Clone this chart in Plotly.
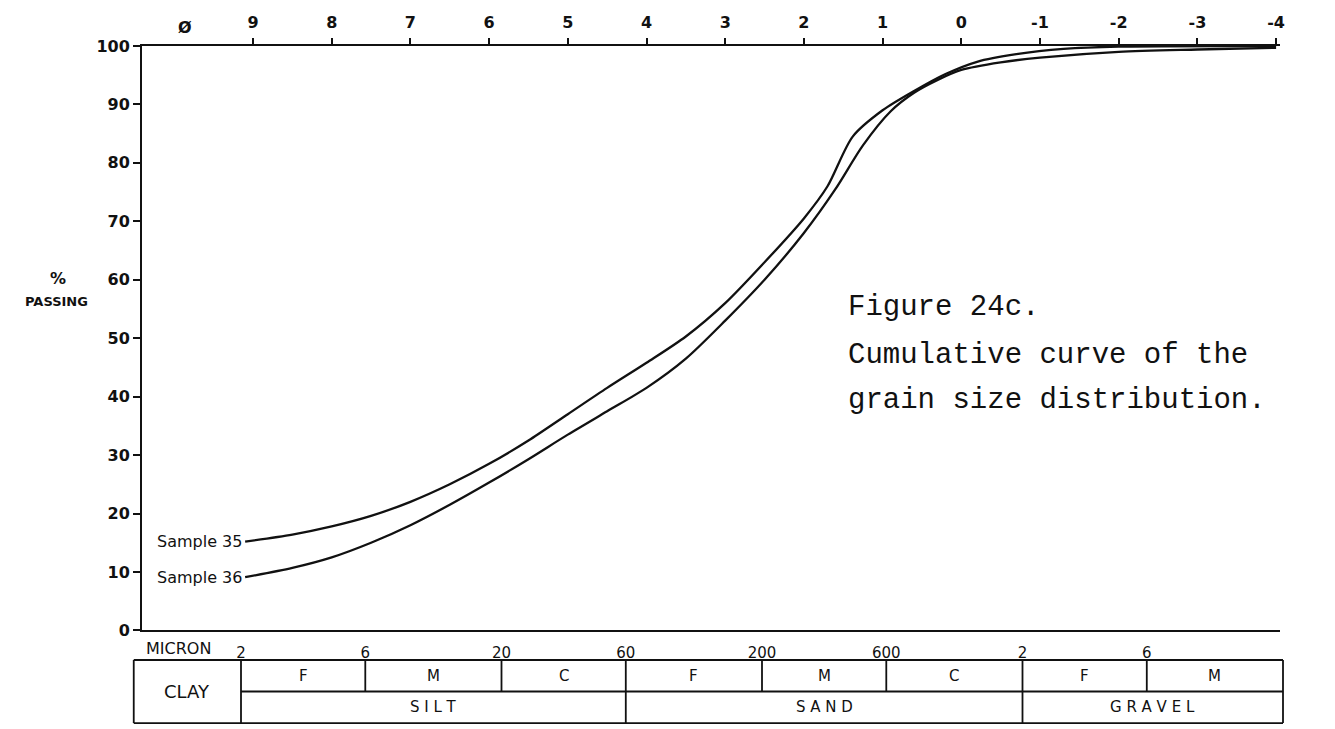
import numpy as np
import plotly.graph_objects as go

# ---------------- data ----------------
phi_35 = [9.1, 8.5, 8.0, 7.5, 7.0, 6.5, 6.0, 5.5, 5.0, 4.5, 4.0, 3.5, 3.0, 2.5, 2.0, 1.7,
          1.38, 1.0, 0.6, 0.2, -0.2, -0.7, -1.3, -2.0, -4.0]
pct_35 = [15.2, 16.4, 17.8, 19.6, 22.0, 25.0, 28.5, 32.5, 37.0, 41.5, 45.8, 50.3, 56.0, 63.0,
          70.5, 76.0, 84.5, 89.0, 92.3, 95.2, 97.3, 98.6, 99.5, 99.9, 100.0]

phi_36 = [9.1, 8.5, 8.0, 7.5, 7.0, 6.5, 6.0, 5.5, 5.0, 4.5, 4.0, 3.5, 3.0, 2.5, 2.0, 1.6,
          1.25, 0.9, 0.6, 0.3, 0.0, -0.5, -1.0, -2.0, -3.0, -4.0]
pct_36 = [9.1, 10.7, 12.5, 15.0, 18.0, 21.5, 25.3, 29.3, 33.5, 37.5, 41.5, 46.5, 53.0, 60.0,
          68.0, 75.5, 83.0, 88.8, 92.0, 94.2, 95.9, 97.2, 98.0, 99.0, 99.4, 99.7]

series_names = ["Sample 35", "Sample 36"]

phi_ticks = [9, 8, 7, 6, 5, 4, 3, 2, 1, 0, -1, -2, -3, -4]
phi_labels = ["9", "8", "7", "6", "5", "4", "3", "2", "1", "0", "-1", "-2", "-3", "-4"]

y_ticks = [0, 10, 20, 30, 40, 50, 60, 70, 80, 90, 100]
y_labels = ["0", "10", "20", "30", "40", "50", "60", "70", "80", "90", "100"]

micron_ticks = [2, 6, 20, 60, 200, 600, 2000, 6000, 20000]
micron_labels = ["2", "6", "20", "60", "200", "600", "2", "6", "20"]

# size-class table (boundaries in microns)
sub_bounds = [2, 6, 20, 60, 200, 600, 2000, 6000, 20000]
sub_labels = ["F", "M", "C", "F", "M", "C", "F", "M"]
class_bounds = [2, 60, 2000, 20000]
class_labels = ["S I L T", "S A N D", "G R A V E L"]
clay_label = "CLAY"
clay_left_um = 0.775

caption = ["Figure 24c.", "Cumulative curve of the", "grain size distribution."]

# ---------------- layout geometry ----------------
W, H = 1335, 729
ML, MR, MT, MB = 120, 55, 38, 0
PW = W - ML - MR
PH = H - MT - MB
PX_PER_DEC = 260.5
X_2UM = 233.0


def px_to_log(px):
    return np.log10(2) + (px - X_2UM) / PX_PER_DEC


def paper_x(px):
    return (px - ML) / PW


def paper_y(py):
    return (H - MB - py) / PH


main_left, main_right = 134, 1272
main_top, main_bottom = 38, 631
x_dom = [paper_x(main_left), paper_x(main_right)]
y_dom = [paper_y(main_bottom), 1.0]
tab_dom = [paper_y(728.2), paper_y(657.8)]

PHI_PER_PX = 1 / 78.7
phi_range = [9 + (245 - main_left) * PHI_PER_PX, 9 - (main_right - 245) * PHI_PER_PX]

FONT = "DejaVu Sans"
BLACK = "#111111"

fig = go.Figure()

for phis, pcts, name in [(phi_35, pct_35, series_names[0]), (phi_36, pct_36, series_names[1])]:
    fig.add_trace(go.Scatter(
        x=phis, y=pcts, xaxis="x2", yaxis="y", mode="lines", name=name,
        line=dict(color=BLACK, width=2.3, shape="spline", smoothing=0.8),
        showlegend=False, hoverinfo="skip"))
    fig.add_annotation(x=phis[0], y=pcts[0], xref="x2", yref="y", text=name,
                       showarrow=False, xanchor="right", yanchor="middle", xshift=-1,
                       font=dict(family=FONT, size=16, color=BLACK))

# dummy trace for the table subplot
fig.add_trace(go.Scatter(x=[], y=[], xaxis="x3", yaxis="y3", showlegend=False))

# table shapes
LW = 1.8
lx = np.log10(clay_left_um)
rx = np.log10(sub_bounds[-1])
line = dict(color=BLACK, width=LW)
fig.add_shape(type="line", xref="x3", yref="y3", x0=lx, x1=rx, y0=2, y1=2, line=line)
fig.add_shape(type="line", xref="x3", yref="y3", x0=lx, x1=rx, y0=0, y1=0, line=line)
fig.add_shape(type="line", xref="x3", yref="y3", x0=np.log10(2), x1=rx, y0=1, y1=1, line=line)
fig.add_shape(type="line", xref="x3", yref="y3", x0=lx, x1=lx, y0=0, y1=2, line=line)
for b in class_bounds:
    fig.add_shape(type="line", xref="x3", yref="y3", x0=np.log10(b), x1=np.log10(b),
                  y0=0, y1=2, line=line)
for b in sub_bounds:
    if b not in class_bounds:
        fig.add_shape(type="line", xref="x3", yref="y3", x0=np.log10(b), x1=np.log10(b),
                      y0=1, y1=2, line=line)

for i, lab in enumerate(sub_labels):
    xc = (np.log10(sub_bounds[i]) + np.log10(sub_bounds[i + 1])) / 2
    fig.add_annotation(x=xc, y=1.5, xref="x3", yref="y3", text=lab, showarrow=False,
                       xanchor="center", yanchor="middle",
                       font=dict(family=FONT, size=15, color=BLACK))
for i, lab in enumerate(class_labels):
    xc = (np.log10(class_bounds[i]) + np.log10(class_bounds[i + 1])) / 2
    fig.add_annotation(x=xc, y=0.5, xref="x3", yref="y3", text=lab, showarrow=False,
                       xanchor="center", yanchor="middle",
                       font=dict(family=FONT, size=15, color=BLACK))
fig.add_annotation(x=(lx + np.log10(2)) / 2, y=1.0, xref="x3", yref="y3", text=clay_label,
                   showarrow=False, xanchor="center", yanchor="middle",
                   font=dict(family=FONT, size=18, color=BLACK))


# other labels
def label(px, py, text, size, family=FONT, xanchor="center", bold=False):
    fig.add_annotation(x=paper_x(px), y=paper_y(py), xref="paper", yref="paper", text=text,
                       showarrow=False, xanchor=xanchor, yanchor="middle",
                       font=dict(family=family, size=size, color=BLACK,
                                 weight="bold" if bold else "normal"))


label(170, 649, "MICRON", 16)
label(177, 19, "Ø", 16, bold=True)
label(50, 274, "%", 16, bold=True)
label(48, 297, "PASSING", 13, bold=True)
fig.add_annotation(x=np.log10(micron_ticks[-1]), y=paper_y(649), xref="x", yref="paper",
                   text="mm", showarrow=False, xanchor="left", yanchor="middle", xshift=12,
                   font=dict(family=FONT, size=13, color=BLACK))
for line_txt, py in zip(caption, [303, 352, 398]):
    label(838, py, line_txt, 29, family="Liberation Mono", xanchor="left")

fig.update_layout(
    width=W, height=H,
    margin=dict(l=ML, r=MR, t=MT, b=MB, pad=0),
    paper_bgcolor="white", plot_bgcolor="white",
    showlegend=False,
    xaxis=dict(domain=x_dom, anchor="y", range=[px_to_log(main_left), px_to_log(main_right)],
               tickmode="array", tickvals=list(np.log10(micron_ticks)), ticktext=micron_labels,
               ticks="", ticklabelstandoff=8, showline=True, linecolor=BLACK, linewidth=2,
               showgrid=False, zeroline=False,
               tickfont=dict(family=FONT, size=15, color=BLACK)),
    xaxis2=dict(overlaying="x", side="top", anchor="y", range=phi_range,
                tickmode="array", tickvals=phi_ticks, ticktext=phi_labels,
                ticks="outside", ticklen=6, tickwidth=1.5, tickcolor=BLACK,
                ticklabelstandoff=4,
                showline=True, linecolor=BLACK, linewidth=2, showgrid=False, zeroline=False,
                tickfont=dict(family=FONT, size=16, color=BLACK, weight="bold")),
    yaxis=dict(domain=y_dom, anchor="x", range=[0, 100], tickmode="array",
               tickvals=y_ticks, ticktext=y_labels, ticks="outside", ticklen=7,
               tickwidth=1.5, tickcolor=BLACK, showline=True, linecolor=BLACK, linewidth=2,
               showgrid=False, zeroline=False,
               tickfont=dict(family=FONT, size=16, color=BLACK, weight="bold")),
    xaxis3=dict(domain=[0, 1], anchor="y3", range=[px_to_log(ML), px_to_log(W - MR)],
                visible=False, showgrid=False, zeroline=False),
    yaxis3=dict(domain=tab_dom, anchor="x3", range=[-0.1, 2.1], visible=False,
                showgrid=False, zeroline=False),
)

fig.write_html("out.html")
